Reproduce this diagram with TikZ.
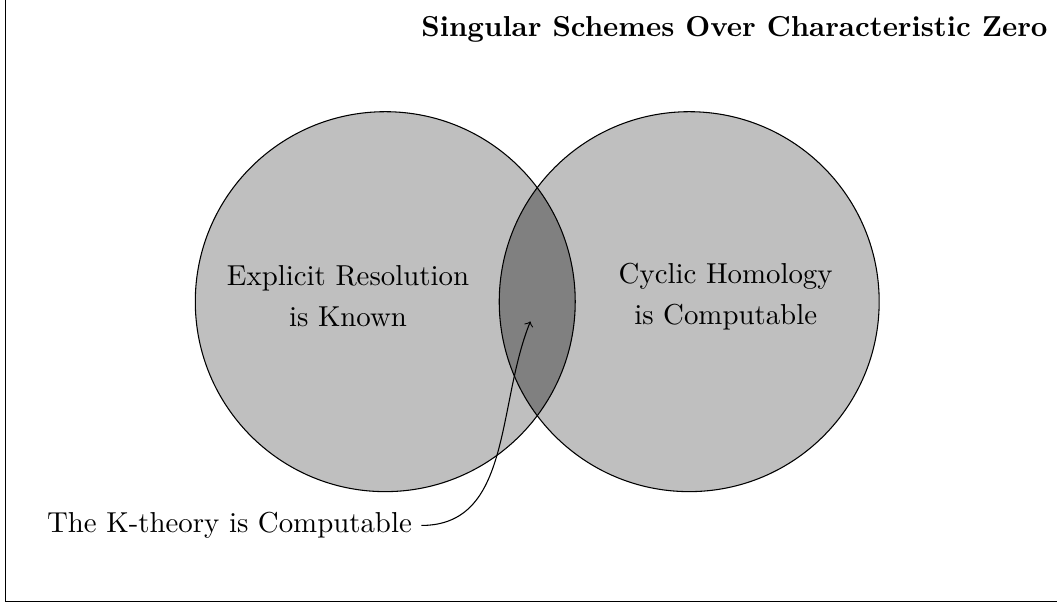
\documentclass[tikz,border=0pt]{standalone}
\usepackage{tikz}
\usetikzlibrary{arrows,positioning}

\begin{document}
\begin{tikzpicture}[
    setfill/.style={fill=gray!50},
    capfill/.style={fill=gray},
    setlabel/.style={align=center, font=\fontsize{10.8}{15.3}\selectfont},
    arrow/.style={->}
]
    \useasboundingbox (-5.07,-3.97) rectangle (8.84,3.97);

    % Frame
    \draw (-5,-3.95) rectangle (9,4.2);

    % Sets
    \coordinate (resol) at (0,0);
    \coordinate (cyclic) at (4,0);
    \fill[setfill] (resol) circle (2.5);
    \fill[setfill] (cyclic) circle (2.5);
    \begin{scope}
        \clip (resol) circle (2.5);
        \fill[capfill] (cyclic) circle (2.5);
    \end{scope}
    \draw (resol) circle (2.5);
    \draw (cyclic) circle (2.5);

    \node[setlabel] (left) at (-0.49,0.07) {Explicit Resolution\\is Known};
    \node[setlabel] (right) at (4.48,0.07) {Cyclic Homology\\is Computable};

    % Title
    \node[font=\fontsize{10.8}{13}\selectfont\bfseries, anchor=east] (title) at (8.84,3.58) {Singular Schemes Over Characteristic Zero};

    % Intersection
    \coordinate (cap) at (1.91,-0.26);
    \node[font=\fontsize{10.8}{13}\selectfont, anchor=base] (ktheory) at (-2.05,-3.04) {The K-theory is Computable};
    \draw[arrow] (ktheory.east) to[out=0, in=-112] (cap);

\end{tikzpicture}
\end{document}
